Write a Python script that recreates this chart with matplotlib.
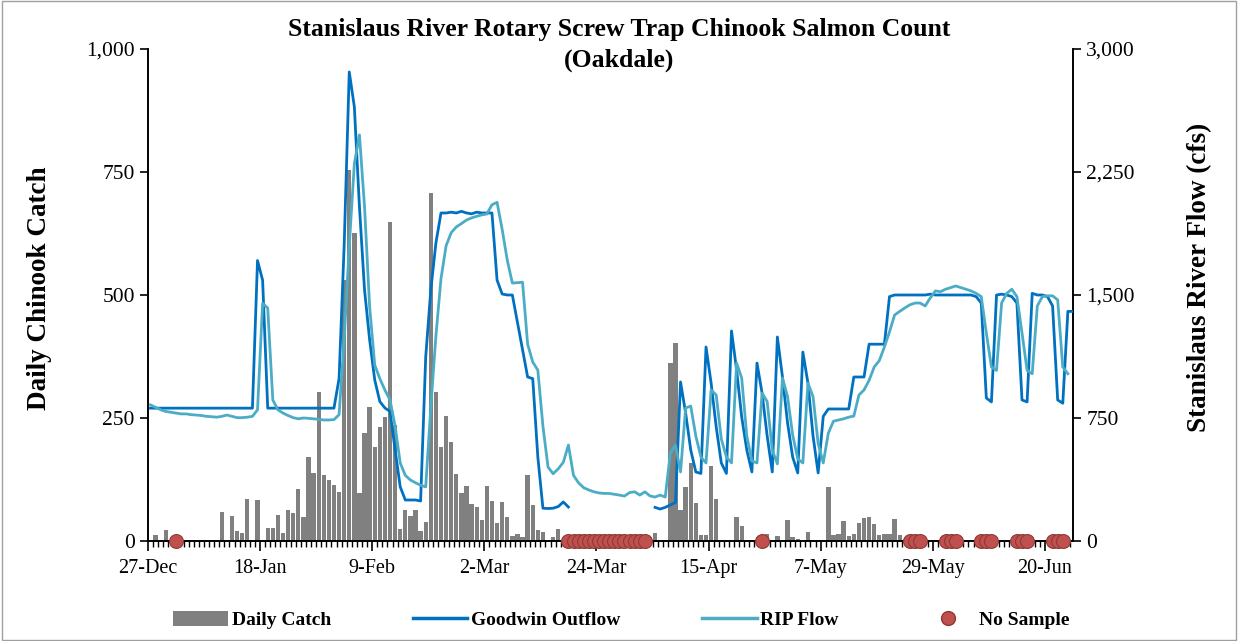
import numpy as np
import matplotlib
matplotlib.use('Agg')
import matplotlib.pyplot as plt
from matplotlib.lines import Line2D
from matplotlib.patches import Patch, Rectangle
from matplotlib.ticker import FixedLocator, MultipleLocator, FuncFormatter

plt.rcParams['font.family'] = ['Liberation Serif', 'DejaVu Serif']

nan = np.nan

# x axis: one entry per day starting 27-Dec, tick every 22 days
tick_labels = ['27-Dec', '18-Jan', '9-Feb', '2-Mar', '24-Mar', '15-Apr', '7-May', '29-May', '20-Jun']

# Daily Chinook catch (left axis)
catch = [
    0, 12, 0, 23, 0, 0, 0, 0, 0, 0,
    2, 0, 0, 0, 58, 3, 50, 20, 17, 85,
    0, 83, 0, 27, 27, 53, 16, 63, 57, 105,
    49, 171, 138, 303, 134, 124, 114, 100, 530, 754,
    626, 97, 220, 272, 191, 232, 252, 648, 235, 25,
    63, 50, 63, 20, 39, 707, 303, 191, 254, 201,
    136, 97, 112, 75, 69, 43, 112, 81, 37, 79,
    49, 10, 14, 8, 134, 73, 22, 18, 0, 8,
    24, 0, 0, 0, 0, 0, 0, 0, 0, 0,
    0, 0, 0, 0, 0, 0, 0, 0, 0, 16,
    0, 0, 362, 403, 63, 110, 158, 77, 12, 12,
    152, 85, 0, 0, 0, 49, 30, 0, 0, 0,
    0, 15, 0, 10, 0, 43, 9, 5, 0, 19,
    0, 0, 0, 110, 12, 14, 40, 10, 14, 36,
    46, 49, 35, 12, 14, 14, 45, 12, 5, 0,
    0, 0, 3, 0, 0, 0, 0, 0, 0, 0,
    0, 0, 0, 0, 0, 0, 0, 0, 0, 0,
    0, 0, 0, 0, 0, 0, 0, 0, 0, 0,
    0, 0,
]

# Goodwin outflow, cfs (right axis)
goodwin = [
    810, 810, 810, 810, 810, 810, 810, 810, 810, 810,
    810, 810, 810, 810, 810, 810, 810, 810, 810, 810,
    810, 1710, 1590, 810, 810, 810, 810, 810, 810, 810,
    810, 810, 810, 810, 810, 810, 810, 990, 1800, 2860,
    2647, 2037, 1530, 1226, 982, 850, 811, 790, 555, 330,
    250, 250, 250, 244, 1122, 1530, 1817, 2000, 2000, 2005,
    2000, 2010, 2000, 1995, 2005, 2000, 2000, 2000, 1591, 1506,
    1500, 1500, 1333, 1167, 1000, 990, 512, 200, 198, 200,
    210, 238, 207, nan, nan, nan, nan, nan, nan, nan,
    nan, nan, nan, nan, nan, nan, nan, nan, nan, 205,
    195, 205, 220, 235, 970, 780, 555, 421, 412, 1183,
    963, 695, 476, 412, 1281, 1043, 756, 555, 421, 1085,
    902, 640, 421, 1244, 1000, 720, 512, 415, 1152, 963,
    640, 415, 760, 805, 805, 805, 805, 805, 1000, 1000,
    1000, 1200, 1200, 1200, 1200, 1490, 1500, 1500, 1500, 1500,
    1500, 1500, 1500, 1505, 1500, 1500, 1500, 1500, 1500, 1500,
    1500, 1500, 1490, 1451, 872, 848, 1500, 1505, 1500, 1490,
    1451, 860, 848, 1510, 1500, 1500, 1490, 1433, 860, 840,
    1400, 1400,
]

# RIP flow, cfs (right axis)
rip = [
    830, 815, 800, 790, 785, 780, 775, 775, 770, 768,
    765, 760, 758, 755, 760, 768, 760, 752, 752, 755,
    760, 800, 1450, 1420, 860, 800, 780, 765, 752, 745,
    750, 748, 745, 742, 738, 738, 740, 770, 1226, 1800,
    2300, 2476, 2037, 1427, 1073, 990, 920, 860, 700, 476,
    400, 372, 355, 340, 330, 817, 1250, 1600, 1800, 1880,
    1915, 1935, 1957, 1970, 1980, 1988, 1994, 2050, 2065, 1900,
    1713, 1573, 1575, 1578, 1200, 1091, 1042, 700, 451, 410,
    440, 480, 585, 400, 354, 325, 311, 300, 293, 290,
    290, 285, 280, 274, 295, 300, 280, 300, 275, 268,
    280, 268, 537, 585, 421, 811, 823, 640, 512, 476,
    921, 890, 622, 512, 476, 1085, 994, 640, 488, 476,
    902, 850, 555, 470, 994, 880, 647, 500, 476, 963,
    880, 595, 476, 658, 730, 738, 745, 755, 762, 890,
    921, 980, 1061, 1100, 1183, 1275, 1378, 1400, 1421, 1440,
    1451, 1451, 1433, 1482, 1525, 1520, 1535, 1545, 1555, 1545,
    1535, 1525, 1510, 1490, 1268, 1061, 1040, 1451, 1510, 1535,
    1490, 1268, 1040, 1020, 1433, 1490, 1495, 1495, 1470, 1061,
    1020, nan,
]

# days without a trap sample
no_sample_days = [5, 82, 83, 84, 85, 86, 87, 88, 89, 90, 91, 92, 93, 94, 95, 96, 97,
                  120, 149, 150, 151, 156, 157, 158, 163, 164, 165, 170, 171, 172,
                  177, 178, 179]

n_days = len(catch)
x = np.arange(n_days) + 0.5  # each day drawn at its midpoint

fig = plt.figure(figsize=(12.38, 6.41), dpi=100)
ax = fig.add_axes([0.1195, 0.156, 0.7472, 0.7676])
ax2 = ax.twinx()

ax.bar(x, catch, width=0.85, color='#808080', zorder=2)
ax2.plot(x, goodwin, color='#0070C0', lw=2.0, zorder=3)
ax2.plot(x, rip, color='#4BACC6', lw=2.0, zorder=4)
ns_x = np.array(no_sample_days) + 0.5
ax2.plot(ns_x, np.zeros(len(ns_x)), 'o', ms=10, color='#C0504D', mec='#8E3A36',
         mew=0.8, clip_on=False, zorder=6)

ax.set_xlim(0, n_days - 0.5)
ax.set_ylim(0, 1000)
ax2.set_ylim(0, 3000)

ax.xaxis.set_major_locator(FixedLocator(np.arange(len(tick_labels)) * 22))
ax.set_xticklabels(tick_labels)
ax.xaxis.set_minor_locator(MultipleLocator(1))
ax.set_yticks([0, 250, 500, 750, 1000])
ax2.set_yticks([0, 750, 1500, 2250, 3000])
comma = FuncFormatter(lambda v, p: f'{int(v):,}')
ax.yaxis.set_major_formatter(comma)
ax2.yaxis.set_major_formatter(comma)

for a in (ax, ax2):
    a.spines['top'].set_visible(False)
    for s in ('left', 'right', 'bottom'):
        a.spines[s].set_color('black')
        a.spines[s].set_linewidth(1.2)
    a.tick_params(axis='y', which='major', labelsize=15.5, length=6, width=1.2, direction='out')
ax.tick_params(axis='x', which='minor', length=4, width=1.0, direction='out')
ax.tick_params(axis='x', which='major', labelsize=14.5, length=7, width=1.2, pad=6)

fig.text(0.5, 0.93, 'Stanislaus River Rotary Screw Trap Chinook Salmon Count\n(Oakdale)',
         ha='center', va='center', fontsize=18.5, fontweight='bold', linespacing=1.4)
fig.text(0.032, 0.55, 'Daily Chinook Catch', rotation=90, ha='center', va='center',
         fontsize=19.5, fontweight='bold')
fig.text(0.969, 0.568, 'Stanislaus River Flow (cfs)', rotation=90, ha='center', va='center',
         fontsize=19.5, fontweight='bold')

handles = [
    Patch(facecolor='#808080', edgecolor='none'),
    Line2D([], [], color='#0070C0', lw=2.5),
    Line2D([], [], color='#4BACC6', lw=2.5),
    Line2D([], [], ls='none', marker='o', ms=10, color='#C0504D', mec='#8E3A36'),
]
labels = ['Daily Catch', 'Goodwin Outflow', 'RIP Flow', 'No Sample']
fig.legend(handles, labels, loc='center', bbox_to_anchor=(0.502, 0.033), ncol=4,
           frameon=False, prop={'weight': 'bold', 'size': 14}, handlelength=2.8,
           handleheight=0.8, columnspacing=4.2, handletextpad=0.2)

fig.patches.append(Rectangle((0.002, 0.002), 0.996, 0.996, transform=fig.transFigure,
                             fill=False, edgecolor='#A0A0A0', lw=1))

fig.savefig('out.png', dpi=100)
